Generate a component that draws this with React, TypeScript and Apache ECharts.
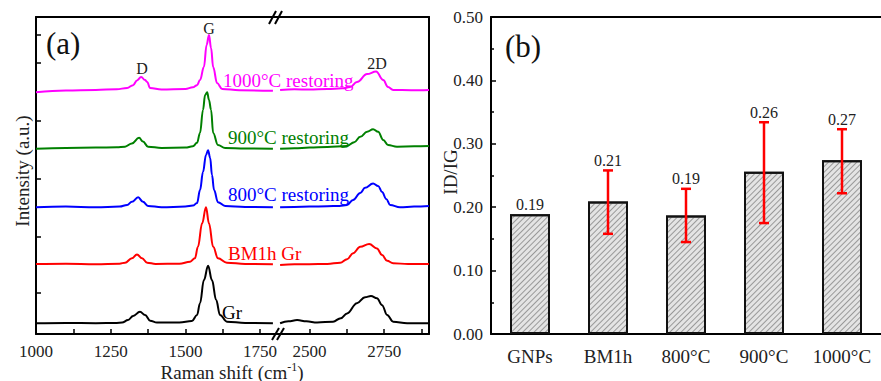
import React, { useEffect, useRef } from 'react';
import * as echarts from 'echarts';

const FONT = 'Liberation Serif';

// ---------- Panel (a): Raman spectra (shift cm-1, intensity a.u.) ----------
const grLeft: number[][] = [[1000,34],[1100,35],[1200,34],[1270,35],[1288,36],[1308,44],[1325,57],[1348,70],[1365,60],[1382,42],[1405,36],[1480,36],[1522,41],[1539,60],[1549,97],[1562,170],[1576,215],[1589,170],[1603,107],[1616,60],[1639,39],[1700,35],[1793,34]];
const grRight: number[][] = [[2402,34],[2430,40],[2459,44],[2490,40],[2526,36],[2579,39],[2605,50],[2626,65],[2659,97],[2686,116],[2706,120],[2726,113],[2743,91],[2760,60],[2780,39],[2827,34],[2900,34]];

const bmLeft: number[][] = [[1000,221],[1100,222],[1200,220],[1280,222],[1298,225],[1321,239],[1338,251],[1355,239],[1372,225],[1400,221],[1480,222],[1516,228],[1532,239],[1542,275],[1556,349],[1569,400],[1579,349],[1593,275],[1609,239],[1639,225],[1700,221],[1793,220]];
const bmRight: number[][] = [[2402,218],[2450,220],[2500,220],[2560,221],[2603,225],[2626,236],[2646,255],[2670,275],[2700,284],[2726,270],[2743,249],[2760,231],[2780,223],[2830,221],[2900,221]];

const r800Left: number[][] = [[1000,400],[1100,402],[1200,400],[1280,402],[1305,407],[1321,417],[1342,431],[1358,417],[1375,404],[1420,400],[1500,402],[1525,405],[1539,413],[1549,454],[1559,511],[1569,565],[1576,580],[1583,555],[1589,502],[1596,454],[1609,416],[1633,404],[1700,401],[1793,400]];
const r800Right: number[][] = [[2402,400],[2450,401],[2500,402],[2560,403],[2600,404],[2626,407],[2646,423],[2670,445],[2686,461],[2713,475],[2730,467],[2743,448],[2757,426],[2770,407],[2803,400],[2850,402],[2900,404]];

const r900Left: number[][] = [[1000,584],[1100,587],[1200,588],[1270,589],[1298,591],[1321,601],[1345,619],[1358,607],[1375,591],[1420,587],[1500,588],[1525,592],[1539,603],[1549,634],[1559,707],[1566,754],[1573,763],[1579,738],[1586,707],[1593,634],[1609,596],[1633,587],[1700,585],[1793,584]];
const r900Right: number[][] = [[2402,584],[2450,586],[2500,588],[2560,590],[2626,593],[2650,605],[2670,622],[2693,638],[2713,646],[2730,638],[2747,612],[2763,596],[2793,591],[2850,592],[2900,593]];

const r1000Left: number[][] = [[1000,763],[1100,768],[1200,770],[1270,772],[1305,776],[1325,785],[1338,800],[1352,811],[1365,801],[1372,795],[1382,776],[1420,771],[1500,773],[1525,778],[1539,785],[1549,801],[1562,842],[1571,912],[1579,943],[1586,902],[1593,842],[1606,792],[1623,773],[1680,769],[1793,767]];
const r1000Right: number[][] = [[2402,770],[2450,772],[2500,771],[2560,773],[2610,775],[2636,779],[2659,795],[2693,820],[2723,828],[2747,801],[2763,779],[2780,770],[2840,769],[2900,770]];

const leftTicks = [1000, 1125, 1250, 1375, 1500, 1625, 1750];
const leftLabels = [1000, 1250, 1500, 1750];
const rightTicks = [2500, 2625, 2750, 2875];
const rightLabels = [2500, 2750];
const intensityTicks = [129, 306, 489, 672, 855, 943];

// ---------- Panel (b): ID/IG ratios ----------
const categories = ['GNPs', 'BM1h', '800°C', '900°C', '1000°C'];
const ratioValues = [0.189, 0.209, 0.187, 0.256, 0.274];
const errLow = [0.189, 0.158, 0.145, 0.175, 0.222];
const errHigh = [0.189, 0.258, 0.229, 0.334, 0.323];

const spectra = [
  { name: 'Gr', color: '#000000', left: grLeft, right: grRight },
  { name: 'BM1h Gr', color: '#ff0000', left: bmLeft, right: bmRight },
  { name: '800°C restoring', color: '#0000ff', left: r800Left, right: r800Right },
  { name: '900°C restoring', color: '#008000', left: r900Left, right: r900Right },
  { name: '1000°C restoring', color: '#ff00ff', left: r1000Left, right: r1000Right },
];

export default function App() {
  const ref = useRef<HTMLDivElement>(null);

  useEffect(() => {
    if (!ref.current) return;
    const chart = echarts.init(ref.current, undefined, { renderer: 'svg' });

    const axisLineStyle = { color: '#000', width: 2 };
    const tickLabel = { fontFamily: FONT, fontSize: 17, color: '#222' };

    const lineSeries: any[] = [];
    spectra.forEach((s) => {
      lineSeries.push({
        type: 'line', name: s.name, xAxisIndex: 0, yAxisIndex: 0, data: s.left,
        showSymbol: false, smooth: 0.4, smoothMonotone: 'x',
        lineStyle: { color: s.color, width: 2 }, itemStyle: { color: s.color },
      });
      lineSeries.push({
        type: 'line', name: s.name, xAxisIndex: 1, yAxisIndex: 1, data: s.right,
        showSymbol: false, smooth: 0.4, smoothMonotone: 'x',
        lineStyle: { color: s.color, width: 2 }, itemStyle: { color: s.color },
      });
    });

    const errData = categories.map((_, i) => [i, errLow[i], errHigh[i], ratioValues[i]]);

    const txt = (text: string, x: number, y: number, fill: string, fontSize: number, align = 'left', extra: any = {}) => ({
      type: 'text', x, y, z: 50, ...extra,
      style: { text, fill, fontSize, fontFamily: FONT, align, verticalAlign: 'middle' },
    });
    const seg = (x1: number, y1: number, x2: number, y2: number) => ({
      type: 'line', z: 50, shape: { x1, y1, x2, y2 }, style: { stroke: '#000', lineWidth: 2 },
    });

    const option: any = {
      animation: false,
      backgroundColor: '#fff',
      textStyle: { fontFamily: FONT },
      grid: [
        { left: 36, top: 17, width: 242, height: 317 },
        { left: 278, top: 17, width: 151, height: 317 },
        { left: 491, top: 17, width: 393, height: 317 },
      ],
      xAxis: [
        {
          type: 'value', gridIndex: 0, min: 1000, max: 1810, position: 'bottom',
          axisLine: { lineStyle: axisLineStyle },
          axisTick: { inside: true, length: 5, lineStyle: { width: 1.5, color: '#000' }, customValues: leftTicks },
          axisLabel: { ...tickLabel, margin: 9, customValues: leftLabels, formatter: (v: number) => String(v) },
          splitLine: { show: false },
        },
        {
          type: 'value', gridIndex: 1, min: 2395, max: 2900, position: 'bottom',
          axisLine: { lineStyle: axisLineStyle },
          axisTick: { inside: true, length: 5, lineStyle: { width: 1.5, color: '#000' }, customValues: rightTicks },
          axisLabel: { ...tickLabel, margin: 9, customValues: rightLabels, formatter: (v: number) => String(v) },
          splitLine: { show: false },
        },
        {
          type: 'value', gridIndex: 0, min: 1000, max: 1810, position: 'top',
          axisLine: { lineStyle: axisLineStyle }, axisTick: { show: false }, axisLabel: { show: false }, splitLine: { show: false },
        },
        {
          type: 'value', gridIndex: 1, min: 2395, max: 2900, position: 'top',
          axisLine: { lineStyle: axisLineStyle }, axisTick: { show: false }, axisLabel: { show: false }, splitLine: { show: false },
        },
        {
          type: 'category', gridIndex: 2, data: categories, position: 'bottom',
          axisLine: { lineStyle: axisLineStyle },
          axisTick: { inside: true, length: 4, lineStyle: { width: 1.5, color: '#000' } },
          axisLabel: { fontFamily: FONT, fontSize: 19, color: '#222', margin: 13 },
        },
        {
          type: 'category', gridIndex: 2, data: categories, position: 'top',
          axisLine: { lineStyle: axisLineStyle }, axisTick: { show: false }, axisLabel: { show: false },
        },
      ],
      yAxis: [
        {
          type: 'value', gridIndex: 0, min: 0, max: 1000, position: 'left',
          axisLine: { show: true, lineStyle: axisLineStyle },
          axisTick: { show: true, inside: true, length: 5, lineStyle: { width: 1.5, color: '#000' }, customValues: intensityTicks },
          axisLabel: { show: false }, splitLine: { show: false },
        },
        {
          type: 'value', gridIndex: 1, min: 0, max: 1000, position: 'right',
          axisLine: { show: true, lineStyle: axisLineStyle },
          axisTick: { show: false }, axisLabel: { show: false }, splitLine: { show: false },
        },
        {
          type: 'value', gridIndex: 2, min: 0, max: 0.5, interval: 0.1, position: 'left',
          axisLine: { show: true, lineStyle: axisLineStyle },
          axisTick: { show: true, inside: true, length: 5, lineStyle: { width: 1.5, color: '#000' } },
          minorTick: { show: true, splitNumber: 2, length: 3, lineStyle: { width: 1.5, color: '#000' } },
          axisLabel: { ...tickLabel, margin: 8, formatter: (v: number) => v.toFixed(2) },
          splitLine: { show: false },
        },
      ],
      series: [
        ...lineSeries,
        {
          type: 'bar', name: 'ID/IG', xAxisIndex: 4, yAxisIndex: 2, data: ratioValues, barWidth: 40,
          itemStyle: {
            color: '#e4e4e4', borderColor: '#111', borderWidth: 2,
            decal: {
              symbol: 'rect', symbolSize: 1, color: 'rgba(90,90,90,0.55)',
              dashArrayX: [1, 0], dashArrayY: [1, 3], rotation: -Math.PI / 4,
            },
          },
        },
        {
          type: 'custom', name: 'error', xAxisIndex: 4, yAxisIndex: 2, data: errData, z: 10,
          renderItem: (params: any, api: any) => {
            const idx = api.value(0);
            const lo = api.value(1);
            const hi = api.value(2);
            const val = api.value(3);
            const pHi = api.coord([idx, hi]);
            const pLo = api.coord([idx, lo]);
            const pVal = api.coord([idx, val]);
            const children: any[] = [];
            const st = { stroke: '#ff0000', lineWidth: 2.5 };
            if (hi !== lo) {
              children.push({ type: 'line', shape: { x1: pHi[0], y1: pHi[1], x2: pLo[0], y2: pLo[1] }, style: st });
              children.push({ type: 'line', shape: { x1: pHi[0] - 5, y1: pHi[1], x2: pHi[0] + 5, y2: pHi[1] }, style: st });
              children.push({ type: 'line', shape: { x1: pLo[0] - 5, y1: pLo[1], x2: pLo[0] + 5, y2: pLo[1] }, style: st });
            }
            const topY = Math.min(pHi[1], pVal[1]);
            children.push({
              type: 'text', x: pVal[0], y: topY - 2,
              style: { text: val.toFixed(2), fill: '#222', fontSize: 16, fontFamily: FONT, align: 'center', verticalAlign: 'bottom' },
            });
            return { type: 'group', children };
          },
        },
      ],
      graphic: [
        txt('(a)', 46, 43, '#111', 31),
        txt('(b)', 505, 46, '#111', 31),
        txt('D', 142, 68, '#222', 16, 'center'),
        txt('G', 209, 28, '#222', 16, 'center'),
        txt('2D', 377, 63, '#222', 16, 'center'),
        txt('1000°C restoring', 223, 80, '#ff00ff', 19),
        txt('900°C restoring', 228, 137, '#008000', 19),
        txt('800°C restoring', 228, 194, '#0000ff', 19),
        txt('BM1h Gr', 228, 253, '#ff0000', 19),
        txt('Gr', 222, 312, '#000', 19),
        txt('Intensity (a.u.)', 22, 171, '#222', 19, 'center', { rotation: Math.PI / 2 }),
        txt('ID/IG', 450, 172, '#222', 19, 'center', { rotation: Math.PI / 2 }),
        {
          type: 'text', x: 232, y: 372, z: 50,
          style: {
            text: 'Raman shift (cm{sup|-1})', fill: '#222', fontSize: 19, fontFamily: FONT,
            align: 'center', verticalAlign: 'middle', lineHeight: 22,
            rich: { sup: { fontSize: 12, fontFamily: FONT, fill: '#222', verticalAlign: 'top', lineHeight: 22 } },
          },
        },
        seg(269, 24, 276, 11),
        seg(275, 24, 282, 11),
        seg(272, 340, 279, 328),
        seg(277, 340, 284, 328),
      ],
    };

    chart.setOption(option);
    return () => chart.dispose();
  }, []);

  return (
    <div
      ref={ref}
      style={{ position: 'fixed', left: 0, top: 0, width: 881, height: 381, background: '#fff' }}
    />
  );
}
